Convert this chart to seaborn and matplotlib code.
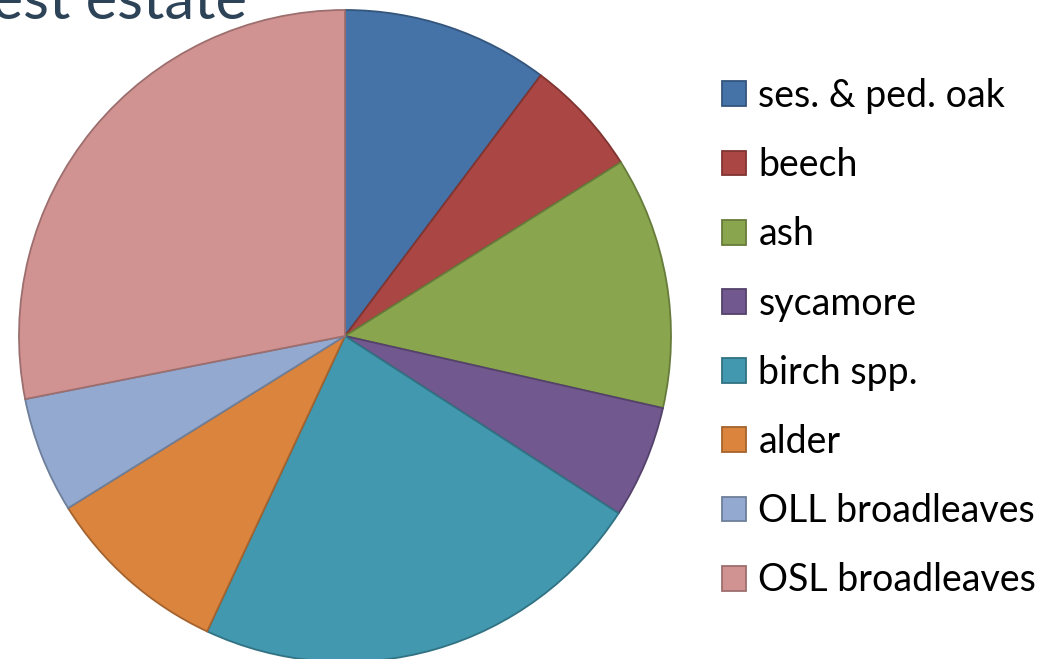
import matplotlib
matplotlib.use("Agg")
import matplotlib.pyplot as plt
import seaborn as sns
from matplotlib.colors import to_rgb

# Data (shares of forest area, %)
species = ["ses. & ped. oak", "beech", "ash", "sycamore", "birch spp.",
           "alder", "OLL broadleaves", "OSL broadleaves"]
shares = [10.25, 5.8, 12.5, 5.6, 22.8, 9.2, 5.75, 28.1]
colours = ["#4572A7", "#AA4643", "#89A54E", "#71588F",
           "#4198AF", "#DB843D", "#93A9CF", "#D19392"]

sns.set_theme(style="white")
plt.rcParams['font.family'] = ['Lato', 'DejaVu Sans']

palette = sns.color_palette(colours)
edges = [tuple(c * 0.75 for c in to_rgb(p)) for p in palette]

fig = plt.figure(figsize=(10.6, 6.59), dpi=100)
W, H = 1060, 659
cx, cy, r = 345, 659 - 336, 326
ax = fig.add_axes([(cx - r) / W, (cy - r) / H, 2 * r / W, 2 * r / H])

wedges, _ = ax.pie(shares, colors=palette, startangle=90, counterclock=False,
                   radius=1, wedgeprops=dict(linewidth=1.3))
for w, e in zip(wedges, edges):
    w.set_edgecolor(e)
ax.set_xlim(-1, 1)
ax.set_ylim(-1, 1)
ax.set_aspect('equal')
ax.axis('off')

leg = fig.legend(wedges, species, loc='upper left',
                 bbox_to_anchor=(722 / W, 1 - 78 / H), frameon=False,
                 fontsize=27, handlelength=0.64, handleheight=0.64,
                 handletextpad=0.33, labelspacing=0.885, borderpad=0,
                 borderaxespad=0)
for t in leg.get_texts():
    t.set_color('black')

fig.text(247 / W, 1 - 19 / H, "Forest estate", ha='right', va='baseline',
         fontsize=43, color='#2D4358')

fig.savefig("out.png", dpi=100)
